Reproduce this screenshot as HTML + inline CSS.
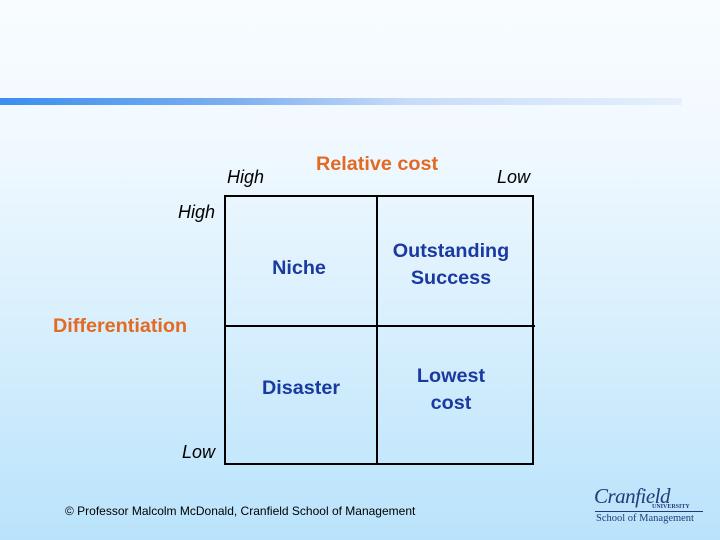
<!DOCTYPE html>
<html><head><meta charset="utf-8"><style>
html,body{margin:0;padding:0}
body{width:720px;height:540px;position:relative;overflow:hidden;font-family:"Liberation Sans",Arial,sans-serif;background:linear-gradient(to bottom,#f8fcff 0%,#f2f9ff 25%,#d8effd 60%,#b9e3fb 100%)}
.t{position:absolute;white-space:nowrap}
.i{font-style:italic;font-size:18px;color:#000}
.b{font-weight:bold;font-size:19.8px;color:#1a3aa0;text-align:center;line-height:27px}
.o{font-weight:bold;font-size:19.8px;color:#e26a22}
.ln{position:absolute;background:#000}
</style></head><body>
<div style="position:absolute;left:0;top:98px;width:682px;height:7px;background:linear-gradient(to right,#3a8ff0 0%,#7fb0f0 35%,#c8dcf8 60%,#e6f0fc 100%)"></div>
<div class="t o" style="left:316px;top:153px">Relative cost</div>
<div class="t i" style="left:227px;top:167px">High</div>
<div class="t i" style="left:497px;top:167px">Low</div>
<div class="t i" style="left:178px;top:202px">High</div>
<div class="t i" style="left:182px;top:442px">Low</div>
<div class="t o" style="left:53px;top:315px">Differentiation</div>
<div>
<div class="ln" style="left:224px;top:195px;width:310px;height:2px"></div>
<div class="ln" style="left:224px;top:463px;width:310px;height:2px"></div>
<div class="ln" style="left:224px;top:195px;width:2px;height:270px"></div>
<div class="ln" style="left:532px;top:195px;width:2px;height:270px"></div>
<div class="ln" style="left:376px;top:195px;width:2px;height:270px"></div>
<div class="ln" style="left:224px;top:325px;width:311px;height:2px"></div>
</div>
<div class="t b" style="left:224px;top:255px;width:150px">Niche</div>
<div class="t b" style="left:376px;top:238px;width:150px">Outstanding<br>Success</div>
<div class="t b" style="left:226px;top:375px;width:150px">Disaster</div>
<div class="t b" style="left:376px;top:363px;width:150px">Lowest<br>cost</div>
<div class="t" style="left:65px;top:504px;font-size:12px;color:#000">© Professor Malcolm McDonald, Cranfield School of Management</div>
<div style="position:absolute;left:590px;top:484px;width:120px;height:48px">
<div class="t" style="left:4px;top:0px;font-family:'Liberation Serif',serif;font-style:italic;font-size:21px;color:#243a7a;letter-spacing:-0.5px">Cranfield</div>
<div class="t" style="left:62px;top:20px;font-family:'Liberation Serif',serif;font-size:6px;font-weight:bold;color:#243a7a">UNIVERSITY</div>
<div style="position:absolute;left:5px;top:27px;width:108px;height:1px;background:#243a7a"></div>
<div class="t" style="left:6px;top:29px;font-family:'Liberation Serif',serif;font-size:10.5px;color:#243a7a">School of Management</div>
</div>
</body></html>
